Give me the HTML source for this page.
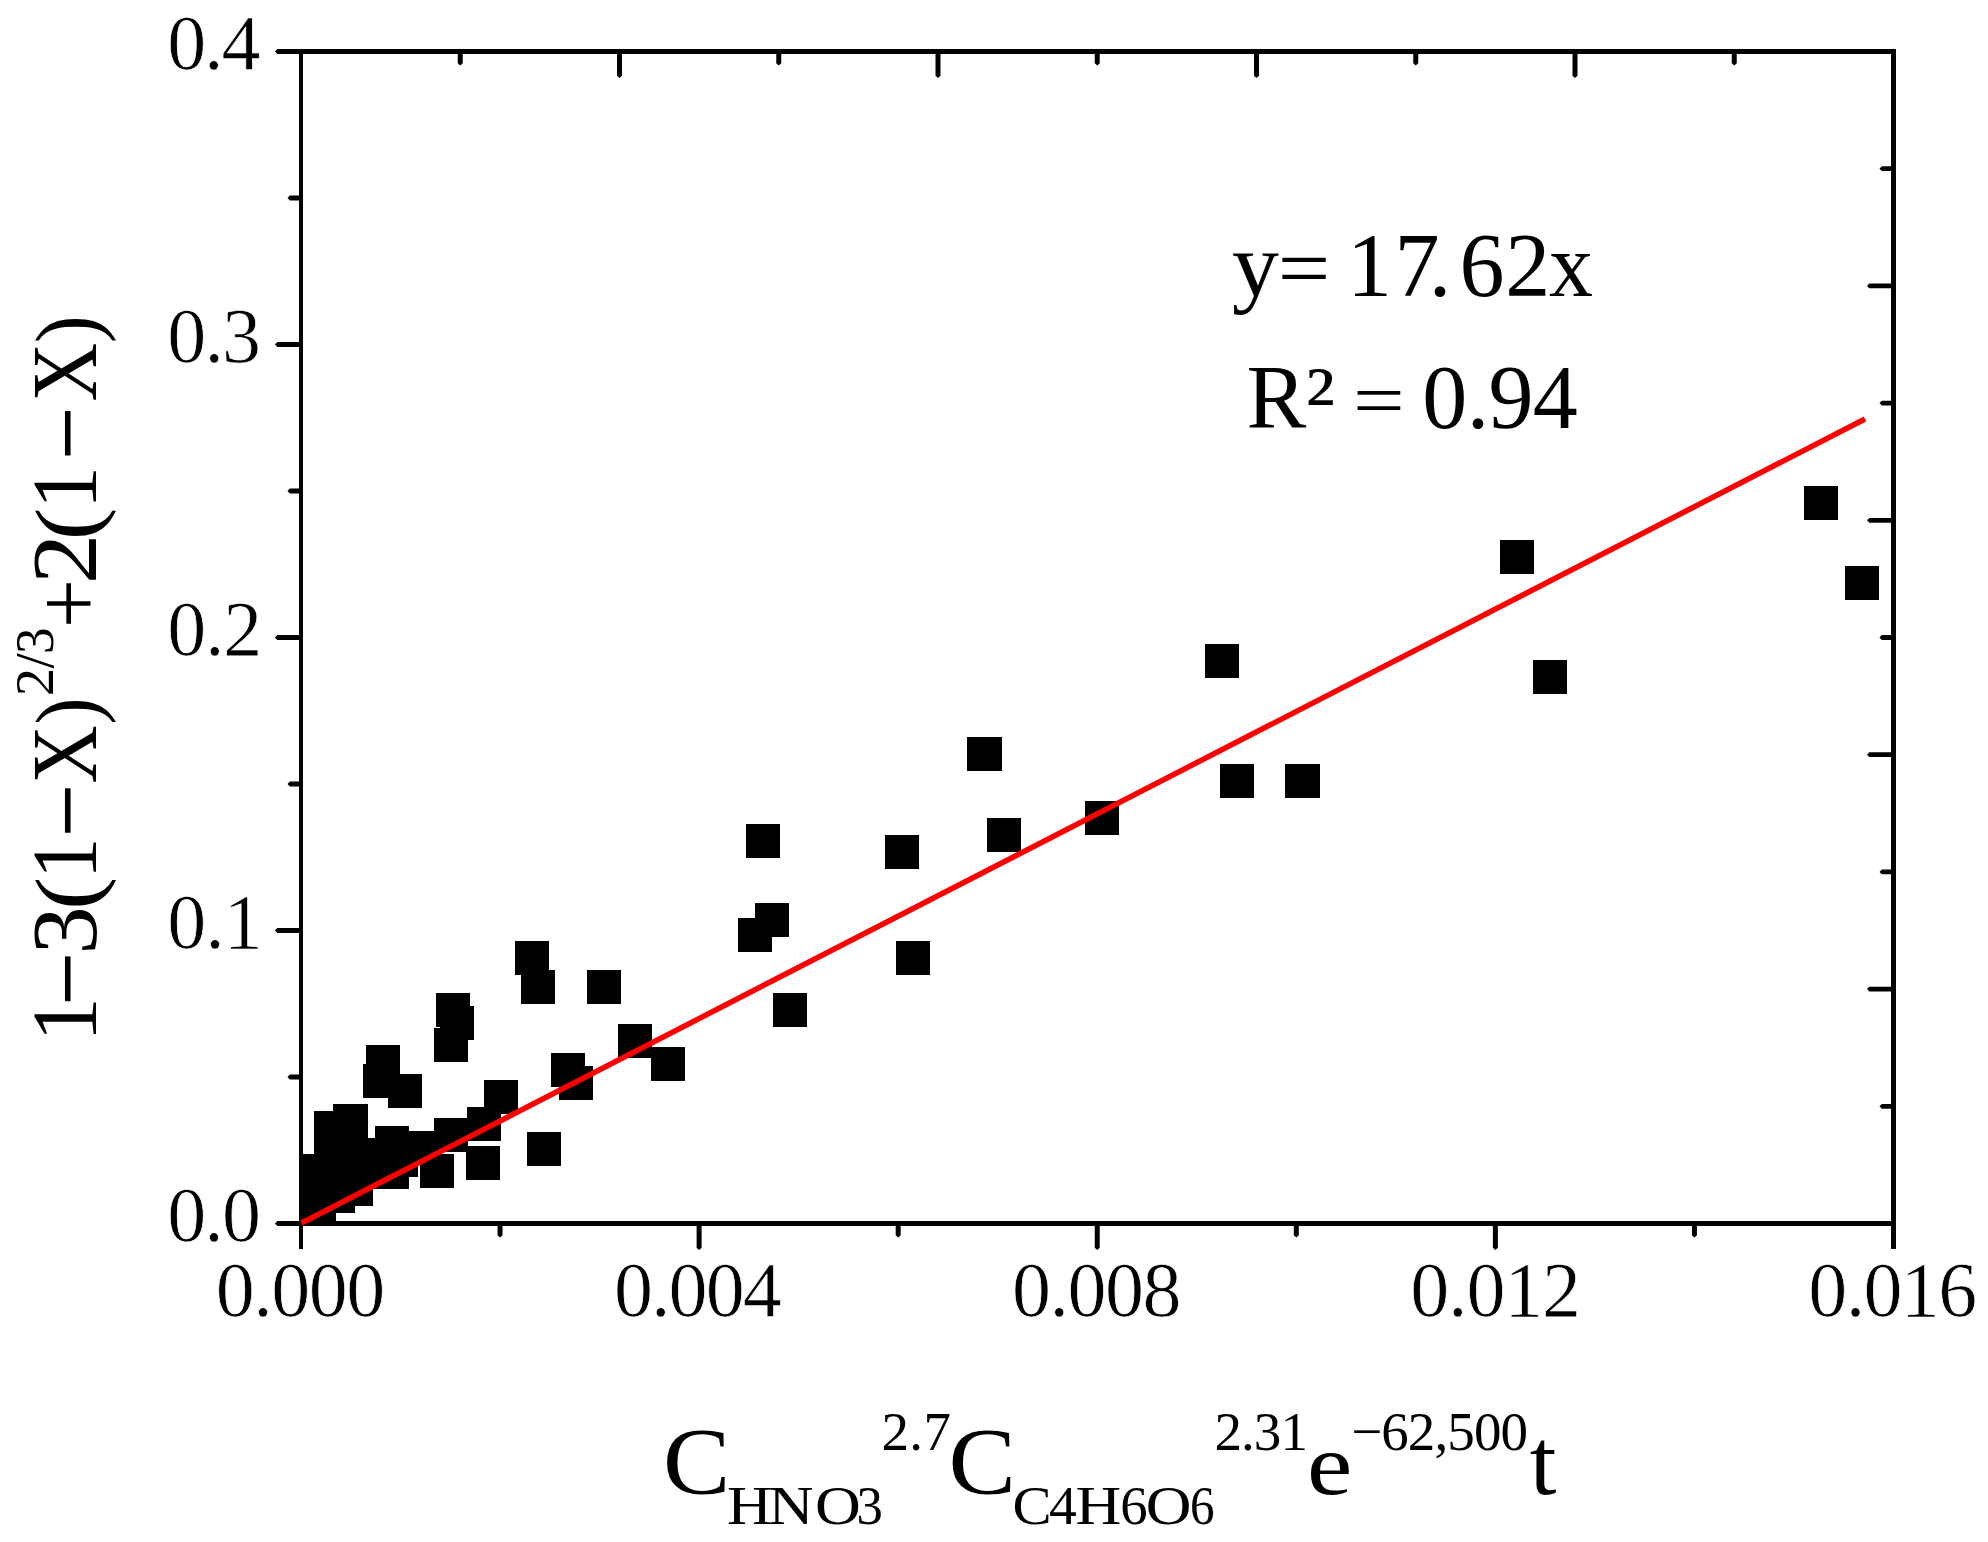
<!DOCTYPE html>
<html lang="en"><head><meta charset="utf-8"><title>Kinetic model fit</title>
<style>html,body{margin:0;padding:0;background:#fff}body{width:1988px;height:1542px;overflow:hidden}svg{display:block}</style>
</head><body>
<svg width="1988" height="1542" viewBox="0 0 1988 1542">
<rect x="0" y="0" width="1988" height="1542" fill="#fff"/>
<g fill="#000" shape-rendering="crispEdges">
<rect x="1804.0" y="486.0" width="34" height="34"/>
<rect x="1845.0" y="565.5" width="34" height="34"/>
<rect x="1500.0" y="540.0" width="34" height="34"/>
<rect x="1533.0" y="660.0" width="34" height="34"/>
<rect x="1205.0" y="644.0" width="34" height="34"/>
<rect x="1220.0" y="764.0" width="34" height="34"/>
<rect x="1285.0" y="764.0" width="35" height="34"/>
<rect x="967.0" y="736.5" width="35" height="34"/>
<rect x="987.3" y="818.0" width="34" height="34"/>
<rect x="1085.1" y="801.1" width="34" height="34"/>
<rect x="885.2" y="835.1" width="34" height="34"/>
<rect x="896.2" y="941.2" width="34" height="34"/>
<rect x="746.2" y="824.2" width="34" height="34"/>
<rect x="755.1" y="903.2" width="34" height="34"/>
<rect x="738.2" y="918.2" width="34" height="34"/>
<rect x="773.0" y="993.2" width="34" height="34"/>
<rect x="515.0" y="941.0" width="34" height="34"/>
<rect x="521.0" y="970.0" width="34" height="34"/>
<rect x="587.0" y="970.0" width="34" height="34"/>
<rect x="436.0" y="993.0" width="34" height="34"/>
<rect x="440.0" y="1006.0" width="34" height="34"/>
<rect x="434.0" y="1027.6" width="34" height="34"/>
<rect x="366.0" y="1045.0" width="34" height="34"/>
<rect x="363.0" y="1064.0" width="34" height="34"/>
<rect x="388.0" y="1074.0" width="34" height="34"/>
<rect x="618.0" y="1024.0" width="34" height="34"/>
<rect x="651.3" y="1047.0" width="34" height="34"/>
<rect x="551.0" y="1053.0" width="34" height="34"/>
<rect x="559.0" y="1066.0" width="34" height="34"/>
<rect x="484.4" y="1080.0" width="34" height="34"/>
<rect x="467.0" y="1107.0" width="34" height="34"/>
<rect x="527.0" y="1132.0" width="34" height="34"/>
<rect x="466.0" y="1146.0" width="34" height="34"/>
<rect x="420.0" y="1154.0" width="34" height="34"/>
<rect x="434.0" y="1118.0" width="34" height="34"/>
<rect x="375.0" y="1126.0" width="34" height="34"/>
<rect x="375.0" y="1155.0" width="34" height="34"/>
<rect x="384.0" y="1143.0" width="34" height="34"/>
<rect x="405.0" y="1131.0" width="34" height="34"/>
<rect x="332.5" y="1104.0" width="35" height="34"/>
<rect x="334.0" y="1104.0" width="34" height="34"/>
<rect x="314.0" y="1111.0" width="34" height="34"/>
<rect x="339.0" y="1172.0" width="34" height="34"/>
<rect x="321.0" y="1179.0" width="34" height="34"/>
<rect x="302.0" y="1189.0" width="34" height="34"/>
<rect x="300.0" y="1154.0" width="34" height="34"/>
<rect x="314.0" y="1140.0" width="34" height="34"/>
<rect x="341.0" y="1138.0" width="34" height="34"/>
<rect x="336.0" y="1160.0" width="34" height="34"/>
<rect x="303.0" y="1175.0" width="34" height="34"/>
<rect x="355.0" y="1155.0" width="34" height="34"/>
<rect x="319.0" y="1159.0" width="34" height="34"/>
</g>
<g fill="#000" shape-rendering="crispEdges">
<rect x="299" y="49" width="1597" height="5"/>
<rect x="299" y="1221" width="1597" height="5"/>
<rect x="299" y="49" width="4" height="1177"/>
<rect x="1891" y="49" width="5" height="1177"/>
</g>
<g fill="#000">
<polygon points="300,49.10 277.30,49.10 275.00,51.50 277.30,53.90 300,53.90"/>
<polygon points="300,195.60 289.80,195.60 287.50,198.00 289.80,200.40 300,200.40"/>
<polygon points="300,342.10 277.30,342.10 275.00,344.50 277.30,346.90 300,346.90"/>
<polygon points="300,488.60 289.80,488.60 287.50,491.00 289.80,493.40 300,493.40"/>
<polygon points="300,635.10 277.30,635.10 275.00,637.50 277.30,639.90 300,639.90"/>
<polygon points="300,781.60 289.80,781.60 287.50,784.00 289.80,786.40 300,786.40"/>
<polygon points="300,928.10 277.30,928.10 275.00,930.50 277.30,932.90 300,932.90"/>
<polygon points="300,1074.60 289.80,1074.60 287.50,1077.00 289.80,1079.40 300,1079.40"/>
<polygon points="300,1221.10 277.30,1221.10 275.00,1223.50 277.30,1225.90 300,1225.90"/>
<polygon points="1892,166.30 1881.80,166.30 1879.50,168.70 1881.80,171.10 1892,171.10"/>
<polygon points="1892,283.50 1869.30,283.50 1867.00,285.90 1869.30,288.30 1892,288.30"/>
<polygon points="1892,400.70 1881.80,400.70 1879.50,403.10 1881.80,405.50 1892,405.50"/>
<polygon points="1892,517.90 1869.30,517.90 1867.00,520.30 1869.30,522.70 1892,522.70"/>
<polygon points="1892,635.10 1881.80,635.10 1879.50,637.50 1881.80,639.90 1892,639.90"/>
<polygon points="1892,752.30 1869.30,752.30 1867.00,754.70 1869.30,757.10 1892,757.10"/>
<polygon points="1892,869.50 1881.80,869.50 1879.50,871.90 1881.80,874.30 1892,874.30"/>
<polygon points="1892,986.70 1869.30,986.70 1867.00,989.10 1869.30,991.50 1892,991.50"/>
<polygon points="1892,1103.90 1881.80,1103.90 1879.50,1106.30 1881.80,1108.70 1892,1108.70"/>
<rect x="299.0" y="1225" width="4.0" height="24" shape-rendering="crispEdges"/>
<polygon points="497.56,1225 497.56,1235.20 500.06,1237.50 502.56,1235.20 502.56,1225"/>
<polygon points="696.62,1225 696.62,1247.70 699.12,1250.00 701.62,1247.70 701.62,1225"/>
<polygon points="895.69,1225 895.69,1235.20 898.19,1237.50 900.69,1235.20 900.69,1225"/>
<polygon points="1094.75,1225 1094.75,1247.70 1097.25,1250.00 1099.75,1247.70 1099.75,1225"/>
<polygon points="1293.81,1225 1293.81,1235.20 1296.31,1237.50 1298.81,1235.20 1298.81,1225"/>
<polygon points="1492.88,1225 1492.88,1247.70 1495.38,1250.00 1497.88,1247.70 1497.88,1225"/>
<polygon points="1691.94,1225 1691.94,1235.20 1694.44,1237.50 1696.94,1235.20 1696.94,1225"/>
<rect x="1891.0" y="1225" width="5.0" height="24" shape-rendering="crispEdges"/>
<polygon points="457.75,53 457.75,63.20 460.25,65.50 462.75,63.20 462.75,53"/>
<polygon points="617.00,53 617.00,75.70 619.50,78.00 622.00,75.70 622.00,53"/>
<polygon points="776.25,53 776.25,63.20 778.75,65.50 781.25,63.20 781.25,53"/>
<polygon points="935.50,53 935.50,75.70 938.00,78.00 940.50,75.70 940.50,53"/>
<polygon points="1094.75,53 1094.75,63.20 1097.25,65.50 1099.75,63.20 1099.75,53"/>
<polygon points="1254.00,53 1254.00,75.70 1256.50,78.00 1259.00,75.70 1259.00,53"/>
<polygon points="1413.25,53 1413.25,63.20 1415.75,65.50 1418.25,63.20 1418.25,53"/>
<polygon points="1572.50,53 1572.50,75.70 1575.00,78.00 1577.50,75.70 1577.50,53"/>
<polygon points="1731.75,53 1731.75,63.20 1734.25,65.50 1736.75,63.20 1736.75,53"/>
</g>
<line x1="301.5" y1="1223" x2="1865" y2="419" stroke="#ff0000" stroke-width="5.5" stroke-linecap="butt"/>
<g font-family="Liberation Serif, 'Times New Roman', serif" fill="#000">
<g stroke="#fff" stroke-width="0.7">
<text x="215.83" y="1316.20" font-size="78" letter-spacing="-1.490" >0.000</text>
<text x="613.95" y="1316.20" font-size="78" letter-spacing="-1.928" >0.004</text>
<text x="1012.08" y="1316.20" font-size="78" letter-spacing="-1.490" >0.008</text>
<text x="1410.20" y="1316.20" font-size="78" letter-spacing="-1.156" >0.012</text>
<text x="1808.33" y="1316.20" font-size="78" letter-spacing="-1.652" >0.016</text>
<text x="167.23" y="68.50" font-size="78" letter-spacing="-2.105" >0.4</text>
<text x="167.23" y="361.50" font-size="78" letter-spacing="-1.841" >0.3</text>
<text x="167.23" y="654.50" font-size="78" letter-spacing="-1.213" >0.2</text>
<text x="167.23" y="947.50" font-size="78" letter-spacing="-1.022" >0.1</text>
<text x="167.23" y="1240.50" font-size="78" letter-spacing="-1.879" >0.0</text>
</g>
<text transform="translate(1232.05,295.60) scale(1.0425,1)" font-size="90.00">y</text>
<text transform="translate(1277.65,296.76) scale(1.0363,0.9422)" font-size="90.00">=</text>
<text x="1346.99" y="295.60" font-size="90" letter-spacing="2.403" >17</text>
<text x="1428.67" y="295.60" font-size="90" letter-spacing="0.000" >.</text>
<text x="1459.53" y="295.60" font-size="90" letter-spacing="0.733" >62</text>
<text transform="translate(1548.93,295.60) scale(0.9766,1)" font-size="90.00">x</text>
<text transform="translate(1246.52,428.00) scale(0.9964,1)" font-size="90.00">R</text>
<text transform="translate(1305.19,428.00) scale(1.1081,1)" font-size="90.00">²</text>
<text transform="translate(1353.03,425.80) scale(1.0196,0.8533)" font-size="90.00">=</text>
<text x="1422.37" y="428.00" font-size="90" letter-spacing="-0.722" >0.94</text>
<text transform="translate(663.06,1494.00) scale(1.0622,1)" font-size="95.00">C</text>
<text transform="translate(726.90,1524.00) scale(1.1335,1)" font-size="55.00">H</text>
<text transform="translate(768.29,1524.00) scale(1.1418,1)" font-size="55.00">N</text>
<text transform="translate(815.00,1524.00) scale(1.1532,1)" font-size="55.00">O</text>
<text transform="translate(856.47,1524.00) scale(0.9595,1)" font-size="55.00">3</text>
<text x="881.48" y="1449.80" font-size="55" letter-spacing="0.376" >2.7</text>
<text transform="translate(948.45,1494.00) scale(1.0641,1)" font-size="95.00">C</text>
<text transform="translate(1012.59,1524.00) scale(1.0671,1)" font-size="55.00">C</text>
<text transform="translate(1048.92,1524.00) scale(1.0091,1)" font-size="55.00">4</text>
<text transform="translate(1075.57,1524.00) scale(1.1527,1)" font-size="55.00">H</text>
<text transform="translate(1120.25,1524.00) scale(0.9958,1)" font-size="55.00">6</text>
<text transform="translate(1145.71,1524.00) scale(1.1503,1)" font-size="55.00">O</text>
<text transform="translate(1189.89,1524.00) scale(0.8937,1)" font-size="55.00">6</text>
<text x="1214.38" y="1449.80" font-size="55" letter-spacing="-0.877" >2.31</text>
<text transform="translate(1306.91,1493.60) scale(1.1865,1)" font-size="86.08">e</text>
<text x="1351.16" y="1449.80" font-size="55" letter-spacing="-0.906" >−62,500</text>
<text transform="translate(1529.76,1494.00) scale(1.0063,1)" font-size="95.50">t</text>
<g transform="translate(96.3,1034) rotate(-90)">
<text transform="translate(-7.86,0.00) scale(0.9673,1)" font-size="92.50">1</text>
<text transform="translate(27.91,8.93) scale(1.0408,1.2156)" font-size="92.50">−</text>
<text transform="translate(79.39,0.00) scale(1.0416,1)" font-size="92.50">3</text>
<text transform="translate(124.00,0.60) scale(1.1146,1)" font-size="89.77">(</text>
<text transform="translate(155.01,0.00) scale(0.8967,1)" font-size="92.50">1</text>
<text transform="translate(196.55,8.93) scale(1.0315,1.2156)" font-size="92.50">−</text>
<text transform="translate(250.43,0.00) scale(0.8701,1)" font-size="92.50">X</text>
<text transform="translate(309.37,0.60) scale(0.9108,1)" font-size="89.77">)</text>
<text transform="translate(405.97,3.40) scale(0.9409,1)" font-size="92.50">+</text>
<text transform="translate(449.66,0.00) scale(1.0922,1)" font-size="92.50">2</text>
<text transform="translate(493.69,0.60) scale(1.0930,1)" font-size="89.77">(</text>
<text transform="translate(524.94,0.00) scale(0.9305,1)" font-size="92.50">1</text>
<text transform="translate(573.74,8.93) scale(1.0338,1.2156)" font-size="92.50">−</text>
<text transform="translate(632.41,0.00) scale(0.8812,1)" font-size="92.50">X</text>
<text transform="translate(690.79,0.60) scale(0.9368,1)" font-size="89.77">)</text>
<text transform="translate(337.81,-43.20) scale(1.0296,1)" font-size="55.00">2</text>
<text transform="translate(365.60,-43.20) scale(0.9947,1)" font-size="55.00">/</text>
<text transform="translate(379.96,-43.20) scale(0.9639,1)" font-size="55.00">3</text>
</g>
</g>
</svg>
</body></html>
